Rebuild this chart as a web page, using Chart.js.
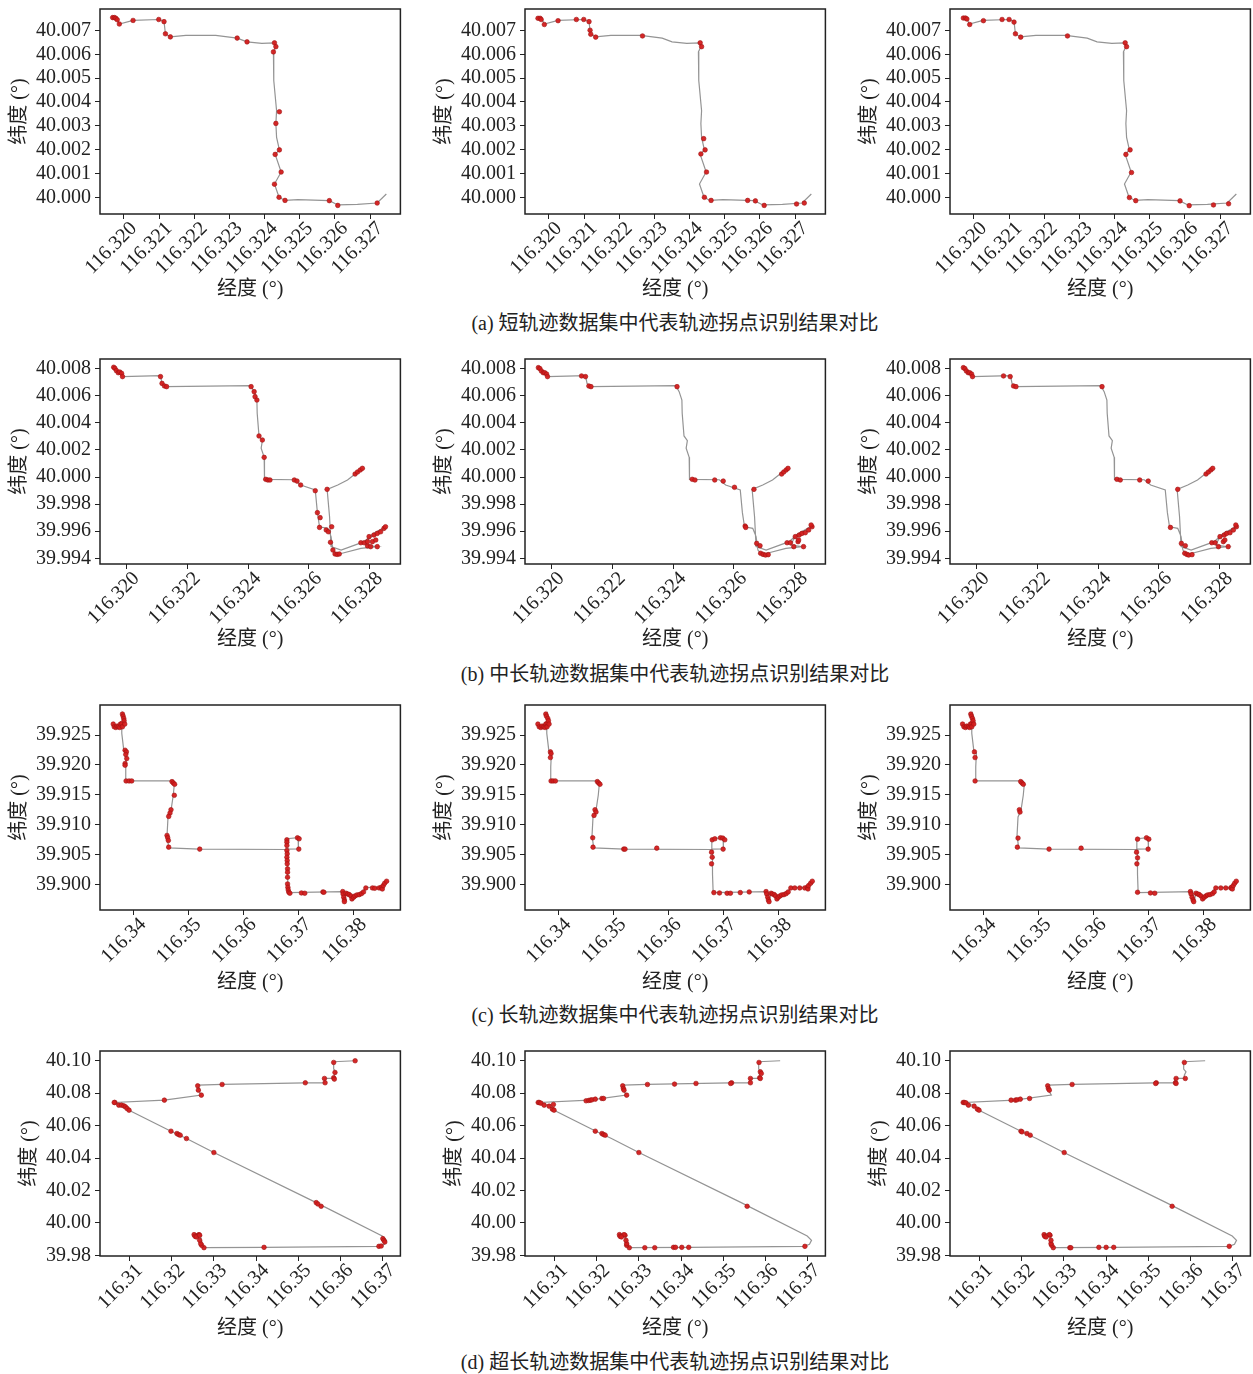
<!DOCTYPE html>
<html><head><meta charset="utf-8">
<script src="https://cdn.jsdelivr.net/npm/chart.js@4.4.0/dist/chart.umd.min.js"></script>
<style>
html,body{margin:0;padding:0;background:#fff;}
body{width:1253px;height:1374px;position:relative;overflow:hidden;}
canvas{position:absolute;}
.cap{position:absolute;left:0;width:1350px;text-align:center;font-size:20px;font-family:'Liberation Serif','Noto Sans CJK SC',serif;color:#222;line-height:24px;white-space:nowrap;}
</style></head><body>
<script>
// ---------- tick labels ----------
const xTicksA = [116.320,116.321,116.322,116.323,116.324,116.325,116.326,116.327];
const yTicksA = [40.000,40.001,40.002,40.003,40.004,40.005,40.006,40.007];
const xTicksB = [116.320,116.322,116.324,116.326,116.328];
const yTicksB = [39.994,39.996,39.998,40.000,40.002,40.004,40.006,40.008];
const xTicksC = [116.34,116.35,116.36,116.37,116.38];
const yTicksC = [39.900,39.905,39.910,39.915,39.920,39.925];
const xTicksD = [116.31,116.32,116.33,116.34,116.35,116.36,116.37];
const yTicksD = [39.98,40.00,40.02,40.04,40.06,40.08,40.10];

const captions = [
 "(a) 短轨迹数据集中代表轨迹拐点识别结果对比",
 "(b) 中长轨迹数据集中代表轨迹拐点识别结果对比",
 "(c) 长轨迹数据集中代表轨迹拐点识别结果对比",
 "(d) 超长轨迹数据集中代表轨迹拐点识别结果对比"
];
const xTitle = "经度 (°)";
const yTitle = "纬度 (°)";

// ---------- trajectories [lon, lat] ----------
const trajA = [[116.31968,40.00755],[116.31979,40.00751],[116.31987,40.00727],[116.32026,40.00742],[116.32099,40.00746],[116.32114,40.00738],[116.32118,40.00686],[116.32132,40.00673],[116.32176,40.00679],[116.32261,40.00679],[116.32322,40.00668],[116.3235,40.00652],[116.32392,40.00646],[116.32428,40.00648],[116.32432,40.00632],[116.32425,40.0061],[116.32426,40.0049],[116.32434,40.00363],[116.32432,40.0031],[116.32434,40.00251],[116.32442,40.00199],[116.3243,40.0018],[116.32447,40.00106],[116.32428,40.00056],[116.32441,40.0],[116.32458,39.99987],[116.32495,39.9999],[116.32584,39.99986],[116.32608,39.99968],[116.32664,39.9997],[116.3272,39.99976],[116.32746,40.00014]];

const trajB = [[116.31958,40.0081],[116.31967,40.00785],[116.31978,40.00775],[116.31987,40.00741],[116.32112,40.00748],[116.32117,40.00691],[116.3213,40.00667],[116.32409,40.00674],[116.3242,40.0063],[116.32429,40.00568],[116.3243,40.0047],[116.32436,40.00303],[116.32447,40.00268],[116.32443,40.00212],[116.32453,40.00145],[116.32454,39.99983],[116.32552,39.9998],[116.32573,39.99941],[116.32621,39.99904],[116.32628,39.99737],[116.32635,39.99633],[116.32662,39.99621],[116.32673,39.9956],[116.32679,39.99461],[116.3269,39.99432],[116.327,39.99432],[116.32771,39.99473],[116.32825,39.99486],[116.32787,39.99498],[116.32798,39.99547],[116.32852,39.99633],[116.32809,39.99579],[116.32782,39.99523],[116.32706,39.99461],[116.32673,39.99486],[116.32668,39.99707],[116.3266,39.99909],[116.32695,39.99941],[116.32727,39.99978],[116.32752,40.00022],[116.32776,40.00064]];

const trajC = [[116.33641,39.92668],[116.33671,39.9264],[116.3376,39.9264],[116.33808,39.92685],[116.33808,39.92852],[116.33832,39.9278],[116.33796,39.92651],[116.33796,39.92528],[116.33832,39.92248],[116.3388,39.92192],[116.33868,39.91969],[116.33868,39.91734],[116.34719,39.91734],[116.34749,39.91678],[116.3473,39.91493],[116.34689,39.91242],[116.34635,39.9113],[116.34617,39.90822],[116.34647,39.90615],[116.35198,39.90593],[116.36784,39.90587],[116.3679,39.90766],[116.36994,39.90783],[116.37,39.90598],[116.36802,39.90593],[116.36802,39.90179],[116.36814,39.89866],[116.37802,39.89883],[116.3782,39.89787],[116.37832,39.89732],[116.37862,39.89855],[116.37964,39.89815],[116.37982,39.89748],[116.38042,39.89787],[116.38132,39.89832],[116.38222,39.89955],[116.38491,39.89944],[116.38521,39.89983],[116.38599,39.90067]];

const trajD = [[116.36355,40.09998],[116.35845,40.09936],[116.35845,40.09484],[116.359,40.09319],[116.35861,40.09113],[116.35861,40.08907],[116.35641,40.08907],[116.35626,40.0864],[116.35171,40.0864],[116.33195,40.08537],[116.32631,40.08496],[116.32631,40.08187],[116.32701,40.07878],[116.31823,40.0757],[116.30647,40.07426],[116.30702,40.07302],[116.30859,40.07261],[116.30984,40.06952],[116.3198,40.05656],[116.32348,40.05203],[116.32999,40.04339],[116.3543,40.01252],[116.36998,39.99194],[116.371,39.98926],[116.37052,39.98679],[116.36919,39.98556],[116.34191,39.98494],[116.32788,39.98473],[116.32709,39.98617],[116.32686,39.99132],[116.32646,39.99338],[116.32568,39.99338],[116.32529,39.99194]];

// ---------- detected turning points [lon, lat] ----------
const ptsA1 = [[116.31968,40.00754],[116.31973,40.00754],[116.31977,40.00751],[116.31981,40.00745],[116.31987,40.00727],[116.32026,40.00742],[116.32099,40.00746],[116.32114,40.00737],[116.32118,40.00686],[116.32132,40.00673],[116.32322,40.00668],[116.3235,40.00652],[116.32428,40.00648],[116.32432,40.00632],[116.32425,40.0061],[116.32442,40.00359],[116.32432,40.0031],[116.32442,40.00199],[116.3243,40.0018],[116.32447,40.00106],[116.32428,40.00055],[116.32441,40.0],[116.32458,39.99987],[116.32584,39.99986],[116.32608,39.99966],[116.3272,39.99976]];
const ptsA2 = [[116.31969,40.00751],[116.31975,40.00751],[116.31978,40.00746],[116.31987,40.00725],[116.32026,40.00741],[116.32078,40.00746],[116.32099,40.00746],[116.32114,40.00737],[116.32117,40.00701],[116.32119,40.00684],[116.32133,40.00672],[116.32266,40.00677],[116.3243,40.00648],[116.32434,40.00632],[116.3244,40.00246],[116.32444,40.00199],[116.32432,40.00182],[116.32448,40.00106],[116.32442,40.0],[116.32461,39.99987],[116.32565,39.99987],[116.32587,39.99985],[116.32612,39.99966],[116.32704,39.99972],[116.32726,39.99976]];
const ptsA3 = [[116.3197,40.00752],[116.31976,40.00752],[116.3198,40.00748],[116.31988,40.00725],[116.32027,40.00741],[116.3208,40.00746],[116.321,40.00746],[116.32114,40.00735],[116.32118,40.00686],[116.32133,40.00672],[116.32266,40.00677],[116.3243,40.00648],[116.32434,40.00632],[116.32444,40.00199],[116.32432,40.0018],[116.32448,40.00104],[116.32442,39.99999],[116.3246,39.99986],[116.32586,39.99985],[116.32612,39.99965],[116.32681,39.99968],[116.32724,39.99973]];

const ptsB1 = [[116.31958,40.0081],[116.31962,40.00802],[116.31967,40.00785],[116.31973,40.0077],[116.31978,40.00775],[116.31984,40.00765],[116.31987,40.00741],[116.32112,40.00741],[116.32117,40.00691],[116.32125,40.00672],[116.32132,40.00667],[116.3241,40.00667],[116.3242,40.0063],[116.32423,40.00593],[116.32429,40.00568],[116.32436,40.00303],[116.32447,40.00273],[116.32453,40.00145],[116.32458,39.99983],[116.32465,39.99978],[116.32472,39.99978],[116.32552,39.99978],[116.32561,39.9997],[116.32573,39.99941],[116.32621,39.99899],[116.32628,39.99737],[116.32637,39.997],[116.32635,39.99628],[116.32657,39.99609],[116.32664,39.99596],[116.32675,39.99633],[116.32671,39.99518],[116.32679,39.99461],[116.32686,39.99432],[116.32693,39.99429],[116.327,39.99432],[116.3266,39.99909],[116.32752,40.00022],[116.3276,40.00037],[116.32769,40.00052],[116.32776,40.00064],[116.32771,39.99515],[116.32782,39.99515],[116.32793,39.99491],[116.32798,39.9956],[116.32809,39.99523],[116.32814,39.99572],[116.32825,39.99584],[116.32836,39.99596],[116.32847,39.99621],[116.32852,39.99633],[116.32825,39.99486],[116.32803,39.99486],[116.3282,39.99535],[116.32793,39.99523]];
const ptsB2 = [[116.31957,40.00807],[116.31962,40.008],[116.31967,40.00782],[116.31973,40.0077],[116.31978,40.0077],[116.31984,40.0076],[116.31987,40.00741],[116.32099,40.00746],[116.32112,40.00741],[116.32123,40.00672],[116.3213,40.00667],[116.32413,40.00667],[116.32463,39.99983],[116.32472,39.99978],[116.32537,39.99978],[116.32565,39.9997],[116.32602,39.99924],[116.32637,39.99638],[116.32639,39.99628],[116.32675,39.9951],[116.32686,39.99493],[116.32666,39.99909],[116.32688,39.99437],[116.32696,39.99429],[116.32704,39.99424],[116.32713,39.99427],[116.32757,40.00022],[116.32764,40.00037],[116.32772,40.00052],[116.32778,40.00064],[116.32775,39.99515],[116.32786,39.99515],[116.32797,39.99486],[116.32802,39.9956],[116.32811,39.99523],[116.32815,39.99572],[116.32824,39.99584],[116.32835,39.99589],[116.32846,39.99609],[116.32857,39.99633],[116.32854,39.99646],[116.32829,39.99486],[116.32813,39.99535]];
const ptsB3 = [[116.31957,40.00807],[116.31962,40.008],[116.31967,40.00782],[116.31973,40.0077],[116.31978,40.0077],[116.31984,40.0076],[116.31987,40.00741],[116.32089,40.00746],[116.32111,40.00741],[116.32122,40.00672],[116.3213,40.00667],[116.32413,40.00667],[116.32462,39.99983],[116.32473,39.99978],[116.32537,39.99978],[116.32565,39.9997],[116.32638,39.99628],[116.32662,39.99909],[116.32674,39.9951],[116.32687,39.99493],[116.32685,39.99437],[116.32692,39.99429],[116.32698,39.99424],[116.32709,39.99427],[116.32755,40.00022],[116.32763,40.00037],[116.32771,40.00052],[116.32777,40.00064],[116.32774,39.99515],[116.32785,39.99515],[116.32796,39.99486],[116.32801,39.9956],[116.32812,39.99523],[116.32815,39.99572],[116.32823,39.99584],[116.32834,39.99589],[116.32845,39.99609],[116.32855,39.99633],[116.32853,39.99646],[116.32828,39.99486],[116.32817,39.99535]];

const ptsC1 = [[116.33641,39.92684],[116.33659,39.92639],[116.33689,39.92627],[116.33712,39.9265],[116.33736,39.92639],[116.3376,39.92627],[116.33772,39.92684],[116.33796,39.92694],[116.33808,39.92851],[116.3382,39.92817],[116.33832,39.92778],[116.33838,39.92739],[116.33808,39.92639],[116.3385,39.92684],[116.33856,39.92247],[116.3388,39.92219],[116.33868,39.92175],[116.33886,39.92107],[116.33856,39.92024],[116.33856,39.91996],[116.33874,39.91733],[116.33928,39.91733],[116.33976,39.91733],[116.34707,39.91722],[116.34731,39.91699],[116.34755,39.91677],[116.34749,39.91493],[116.34689,39.91252],[116.34671,39.91196],[116.34647,39.9114],[116.34617,39.90822],[116.34629,39.90783],[116.34641,39.90738],[116.34647,39.90626],[116.3521,39.90593],[116.36983,39.90783],[116.37013,39.90766],[116.37007,39.90593],[116.36791,39.90749],[116.36791,39.9071],[116.36791,39.90654],[116.36791,39.9057],[116.36797,39.90514],[116.36791,39.90458],[116.36797,39.90402],[116.36797,39.90347],[116.36803,39.90263],[116.36803,39.90207],[116.36803,39.90123],[116.36803,39.90011],[116.36809,39.89955],[116.36815,39.89911],[116.36827,39.89871],[116.36845,39.89855],[116.37055,39.8986],[116.37115,39.89855],[116.37444,39.89877],[116.37462,39.89871],[116.37804,39.89883],[116.3781,39.89843],[116.37822,39.89788],[116.37834,39.89743],[116.37834,39.89715],[116.37864,39.89855],[116.37894,39.89843],[116.37923,39.89832],[116.37953,39.8981],[116.37971,39.8976],[116.38001,39.89788],[116.38025,39.8981],[116.38061,39.89827],[116.38103,39.89832],[116.38145,39.89849],[116.38181,39.89877],[116.38223,39.89944],[116.38343,39.89944],[116.38385,39.89939],[116.38463,39.89944],[116.38504,39.89955],[116.38522,39.89927],[116.3854,39.89983],[116.38564,39.90022],[116.386,39.90056]];
const ptsC2 = [[116.33635,39.92684],[116.33659,39.92639],[116.33689,39.92627],[116.33712,39.9265],[116.33742,39.92639],[116.33766,39.92627],[116.33778,39.92684],[116.33802,39.92694],[116.33778,39.92851],[116.3379,39.92817],[116.33814,39.92778],[116.33826,39.92739],[116.33802,39.92639],[116.33838,39.92684],[116.33862,39.92219],[116.33874,39.92191],[116.33862,39.92124],[116.33874,39.91733],[116.3391,39.91733],[116.33952,39.91733],[116.34713,39.91722],[116.34737,39.91699],[116.34761,39.91677],[116.34671,39.91252],[116.34689,39.91213],[116.34653,39.91157],[116.34629,39.90783],[116.34635,39.90626],[116.35192,39.90593],[116.35216,39.90593],[116.35791,39.90609],[116.36797,39.90749],[116.36845,39.90766],[116.36947,39.90783],[116.36989,39.90777],[116.37025,39.90749],[116.36995,39.90593],[116.36785,39.90542],[116.36797,39.90458],[116.36785,39.90347],[116.36827,39.89866],[116.36929,39.8986],[116.37067,39.89855],[116.37127,39.89855],[116.37306,39.89866],[116.37468,39.89877],[116.37774,39.89883],[116.37786,39.89843],[116.37804,39.89788],[116.37816,39.89743],[116.37828,39.89715],[116.37864,39.89855],[116.37888,39.89843],[116.37923,39.89832],[116.37947,39.8981],[116.37971,39.8976],[116.37995,39.89788],[116.38025,39.8981],[116.38055,39.89827],[116.38097,39.89832],[116.38139,39.89849],[116.38175,39.89877],[116.38223,39.89944],[116.38295,39.89944],[116.38385,39.89944],[116.38475,39.89944],[116.38522,39.89955],[116.38534,39.89927],[116.38546,39.89983],[116.38582,39.90022],[116.38612,39.90056]];
const ptsC3 = [[116.33629,39.92684],[116.33653,39.92639],[116.33683,39.92627],[116.33706,39.9265],[116.33736,39.92639],[116.3376,39.92627],[116.33772,39.92684],[116.33796,39.92694],[116.33778,39.92851],[116.3379,39.92817],[116.33808,39.92778],[116.3382,39.92739],[116.33796,39.92639],[116.33832,39.92684],[116.33844,39.92219],[116.33856,39.92124],[116.33856,39.91733],[116.34683,39.91722],[116.34707,39.91699],[116.34731,39.91677],[116.34659,39.91252],[116.34671,39.91213],[116.34635,39.90777],[116.34623,39.90626],[116.35198,39.90593],[116.35779,39.90609],[116.36803,39.9076],[116.36965,39.90783],[116.37007,39.9076],[116.36995,39.90593],[116.36785,39.90542],[116.36803,39.90447],[116.36791,39.90347],[116.36803,39.89871],[116.37037,39.8986],[116.37115,39.89855],[116.37762,39.89883],[116.37774,39.89843],[116.37792,39.89788],[116.3781,39.89743],[116.37822,39.89715],[116.37864,39.89855],[116.37894,39.89843],[116.37923,39.89832],[116.37953,39.8981],[116.37983,39.8976],[116.38013,39.89788],[116.38043,39.8981],[116.38073,39.89827],[116.38115,39.89832],[116.38163,39.89849],[116.38193,39.89877],[116.38223,39.89944],[116.38313,39.89944],[116.38403,39.89944],[116.38493,39.89944],[116.3851,39.89955],[116.38522,39.89927],[116.3854,39.89983],[116.38564,39.90022],[116.38594,39.90056]];

const ptsD1 = [[116.36355,40.09998],[116.35845,40.09895],[116.35876,40.09278],[116.35845,40.08949],[116.35861,40.08866],[116.35626,40.08907],[116.35641,40.0864],[116.35171,40.0864],[116.33195,40.08537],[116.32615,40.08455],[116.32631,40.08187],[116.32701,40.07878],[116.31823,40.0757],[116.30647,40.07426],[116.30632,40.07426],[116.30741,40.07261],[116.30804,40.07261],[116.30859,40.0722],[116.30898,40.07158],[116.30937,40.07055],[116.30984,40.06952],[116.3198,40.05656],[116.32121,40.05512],[116.3216,40.0545],[116.322,40.05409],[116.32348,40.05203],[116.32999,40.04339],[116.3543,40.01252],[116.35469,40.01169],[116.35547,40.01025],[116.37013,39.99029],[116.37037,39.98926],[116.3706,39.98823],[116.36919,39.98556],[116.36974,39.98576],[116.34191,39.98494],[116.32764,39.98473],[116.32709,39.98617],[116.32686,39.9872],[116.32662,39.98926],[116.32646,39.99276],[116.32631,39.99235],[116.32529,39.99276],[116.32552,39.99173],[116.32584,39.99132],[116.32662,39.99235]];
const ptsD2 = [[116.35853,40.09895],[116.35884,40.09319],[116.35908,40.09216],[116.35869,40.08949],[116.35884,40.08907],[116.35649,40.08907],[116.35649,40.0864],[116.35202,40.0864],[116.35179,40.08599],[116.34356,40.08599],[116.33846,40.08558],[116.33203,40.08537],[116.32615,40.08455],[116.32631,40.0829],[116.32646,40.08187],[116.32709,40.07878],[116.31745,40.07529],[116.31808,40.0755],[116.31847,40.0757],[116.31886,40.0759],[116.31964,40.07631],[116.32121,40.07673],[116.3216,40.07673],[116.30608,40.07426],[116.30632,40.07426],[116.30671,40.07384],[116.30749,40.07261],[116.30867,40.07199],[116.30969,40.07302],[116.30945,40.07014],[116.30984,40.06952],[116.31964,40.05656],[116.32121,40.05512],[116.3216,40.0545],[116.322,40.05409],[116.32999,40.04339],[116.35571,40.01025],[116.36943,39.98556],[116.32772,39.98473],[116.32709,39.98617],[116.32709,39.9872],[116.32693,39.98926],[116.3267,39.99235],[116.32646,39.99276],[116.32537,39.99276],[116.32552,39.99173],[116.32584,39.99132],[116.3314,39.98473],[116.33376,39.98473],[116.33822,39.98494],[116.33869,39.98494],[116.34018,39.98494],[116.34183,39.98494]];
const ptsD3 = [[116.35861,40.09895],[116.35884,40.08907],[116.35665,40.08907],[116.35649,40.0864],[116.35665,40.08599],[116.35194,40.0864],[116.35179,40.08599],[116.33195,40.08537],[116.32615,40.08455],[116.32631,40.0829],[116.32654,40.08187],[116.31745,40.0757],[116.31847,40.0757],[116.31886,40.0759],[116.31964,40.07631],[116.32184,40.07673],[116.30608,40.07426],[116.30632,40.07426],[116.30671,40.07405],[116.30733,40.07261],[116.30867,40.07199],[116.30945,40.07014],[116.30984,40.06952],[116.3198,40.05656],[116.32004,40.05615],[116.32121,40.05512],[116.322,40.05409],[116.33007,40.04339],[116.35571,40.01025],[116.36927,39.98556],[116.32748,39.98473],[116.32709,39.98617],[116.32693,39.9872],[116.32693,39.98926],[116.3267,39.99235],[116.32654,39.99276],[116.32529,39.99276],[116.32544,39.99173],[116.32576,39.99132],[116.3314,39.98473],[116.33164,39.98473],[116.3383,39.98494],[116.34003,39.98494],[116.34183,39.98494]];

// ---------- layout / styling ----------
const FONT = "'Liberation Serif','Noto Sans CJK SC',serif";
const INK = '#222';
const rows = [
 {traj:trajA, pts:[ptsA1,ptsA2,ptsA3], xt:xTicksA, yt:yTicksA, xdec:3, ydec:3, xr:[116.31932,116.32786], yr:[39.9993,40.0079], top:9, yPad:8, xPad:4, capY:323},
 {traj:trajB, pts:[ptsB1,ptsB2,ptsB3], xt:xTicksB, yt:yTicksB, xdec:3, ydec:3, xr:[116.31913,116.32901], yr:[39.99358,40.00871], top:359, yPad:8, xPad:4, capY:674},
 {traj:trajC, pts:[ptsC1,ptsC2,ptsC3], xt:xTicksC, yt:yTicksC, xdec:2, ydec:3, xr:[116.33401,116.3885], yr:[39.89575,39.93003], top:705, yPad:8, xPad:7, capY:1015},
 {traj:trajD, pts:[ptsD1,ptsD2,ptsD3], xt:xTicksD, yt:yTicksD, xdec:2, ydec:2, xr:[116.30294,116.3743], yr:[39.9796,40.106], top:1051, yPad:18, xPad:7, capY:1362}
];
const colPlotLeft = [100,525,950];
const Y_AXIS_W = 100, X_AXIS_H = 92, PLOT_W = 302, PLOT_H = 205, PAD_TOP = 9, PAD_RIGHT = 3;

const frame = {
  id:'frame',
  afterDatasetsDraw(chart){
    const a = chart.chartArea, ctx = chart.ctx;
    ctx.save();
    ctx.strokeStyle = INK; ctx.lineWidth = 1.5;
    ctx.strokeRect(a.left, a.top, a.right-a.left, a.bottom-a.top);
    ctx.restore();
  }
};

function axis(ticksArr, dec, range, isX, row){
  return {
    type:'linear', position: isX ? 'bottom' : 'left',
    min: range[0], max: range[1],
    border:{display:false},
    grid:{display:true, drawOnChartArea:false, drawTicks:true, tickLength:5, color:INK, lineWidth:1},
    afterBuildTicks(s){ s.ticks = ticksArr.map(v=>({value:v})); },
    afterFit(s){
      if(isX){ s.height = X_AXIS_H; s.paddingLeft = 0; s.paddingRight = 0; }
      else { s.width = Y_AXIS_W; s.paddingTop = 0; s.paddingBottom = 0; }
    },
    ticks:{
      autoSkip:false, color:INK, padding: isX ? -2 : 4,
      labelOffset: isX ? 10 : 0,
      font:{family:FONT, size:20},
      minRotation: isX ? 45 : 0, maxRotation: isX ? 45 : 0,
      callback:(v)=>Number(v).toFixed(dec)
    },
    title:{display:true, text: isX ? xTitle : yTitle, color:INK,
      font:{family:FONT, size:20},
      padding: isX ? {top:0,bottom:row.xPad} : {top:row.yPad,bottom:0}}
  };
}

rows.forEach((row, ri)=>{
  row.pts.forEach((pts,ci)=>{
    const cv = document.createElement('canvas');
    cv.width = Y_AXIS_W + PLOT_W + PAD_RIGHT;
    cv.height = PAD_TOP + PLOT_H + X_AXIS_H;
    cv.style.left = (colPlotLeft[ci] - Y_AXIS_W) + 'px';
    cv.style.top = (row.top - PAD_TOP) + 'px';
    document.body.appendChild(cv);
    new Chart(cv, {
      type:'scatter',
      data:{datasets:[
        {data: pts.map(p=>({x:p[0], y:p[1]})), showLine:false, pointRadius:2.3,
         backgroundColor:'rgba(212,30,30,0.95)', borderColor:'#a01212', borderWidth:0.6, order:0},
        {data: row.traj.map(p=>({x:p[0], y:p[1]})), showLine:true, pointRadius:0,
         borderColor:'#949494', borderWidth:1.2, order:1}
      ]},
      options:{
        responsive:false, animation:false, devicePixelRatio:1,
        layout:{padding:{left:0, top:PAD_TOP, right:PAD_RIGHT, bottom:0}},
        plugins:{legend:{display:false}, tooltip:{enabled:false}},
        scales:{
          x: axis(row.xt, row.xdec, row.xr, true, row),
          y: axis(row.yt, row.ydec, row.yr, false, row)
        }
      },
      plugins:[frame]
    });
  });
  const cap = document.createElement('div');
  cap.className = 'cap';
  cap.style.top = (row.capY - 12) + 'px';
  cap.textContent = captions[ri];
  document.body.appendChild(cap);
});
</script>
</body></html>
